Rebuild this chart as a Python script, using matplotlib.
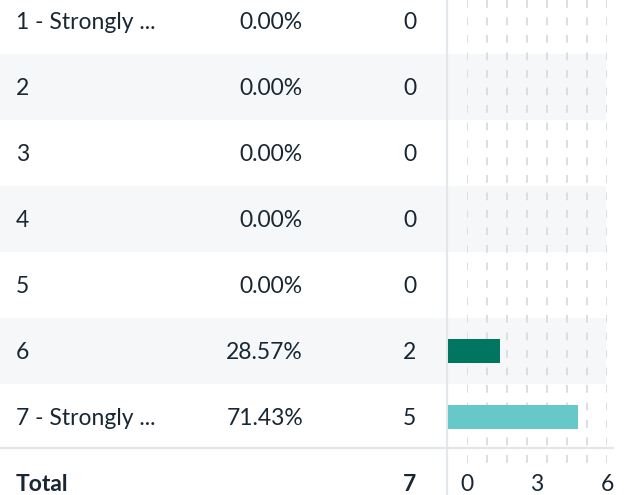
import numpy as np
import matplotlib
matplotlib.use("Agg")
import matplotlib.pyplot as plt

plt.rcParams["font.family"] = ["Lato", "DejaVu Sans"]

# table data
labels = ["1 - Strongly ...", "2", "3", "4", "5", "6", "7 - Strongly ..."]
percents = ["0.00%", "0.00%", "0.00%", "0.00%", "0.00%", "28.57%", "71.43%"]
counts = [0, 0, 0, 0, 0, 2, 5]
bar_colors = ["#007560", "#007560", "#007560", "#007560", "#007560", "#007560", "#67c8c7"]
total_label = "Total"
total_count = 7
axis_ticks = [0, 3, 6]

W, H = 629, 495
ROW0, ROW_H = 21, 66
TXT = "#182733"
LINE = "#e3e6ea"
BAND = "#f6f7f9"
FS = 16.5

fig = plt.figure(figsize=(W / 100, H / 100), dpi=100)
fig.patch.set_facecolor("white")

# background axes in pixel coords: bands and table text
bg = fig.add_axes([0, 0, 1, 1])
bg.set_xlim(0, W)
bg.set_ylim(H, 0)
bg.axis("off")
bg.set_zorder(0)

for i in range(len(labels)):
    yc = ROW0 + ROW_H * i
    if i % 2 == 1:
        bg.add_patch(plt.Rectangle((0, yc - ROW_H / 2), 606, ROW_H, color=BAND, lw=0))
    bg.text(16, yc + 8, labels[i], fontsize=FS, color=TXT, ha="left", va="baseline")
    bg.text(303, yc + 8, percents[i], fontsize=FS, color=TXT, ha="right", va="baseline")
    bg.text(416, yc + 8, str(counts[i]), fontsize=FS, color=TXT, ha="right", va="baseline")

yt = ROW0 + ROW_H * len(labels)
bg.text(16, yt + 8, total_label, fontsize=FS, color=TXT, ha="left", va="baseline", fontweight="bold")
bg.text(416, yt + 8, str(total_count), fontsize=FS, color=TXT, ha="right", va="baseline", fontweight="bold")

# tick labels and dashed grid
tk = fig.add_axes([467 / W, 0, 140 / W, 1])
tk.set_xlim(0, 6)
tk.set_ylim(H, 0)
tk.axis("off")
tk.patch.set_alpha(0)
tk.set_zorder(1)
tk.vlines(np.linspace(0, 6, 8), 0, 466, colors="#dedede", lw=1.4,
          linestyles=(0, (4, 5)))
for t in axis_ticks:
    tk.text(t, yt + 8, str(t), fontsize=FS, color=TXT, ha="center", va="baseline")

# separator and axis line
bg2 = fig.add_axes([0, 0, 1, 1])
bg2.set_xlim(0, W)
bg2.set_ylim(H, 0)
bg2.axis("off")
bg2.patch.set_alpha(0)
bg2.set_zorder(2)
bg2.axhline(448, xmin=0, xmax=613 / W, color=LINE, lw=1.6)
bg2.axvline(447, color=LINE, lw=1.6)

# bars
ax = fig.add_axes([448 / W, 0, 156 / W, 1])
ax.set_xlim(0, 6)
ax.set_ylim((H - ROW0) / ROW_H, -ROW0 / ROW_H)
ax.axis("off")
ax.patch.set_alpha(0)
ax.set_zorder(3)
ax.barh(range(len(counts)), counts, height=24 / ROW_H, color=bar_colors)

fig.savefig("out.png", dpi=100)
